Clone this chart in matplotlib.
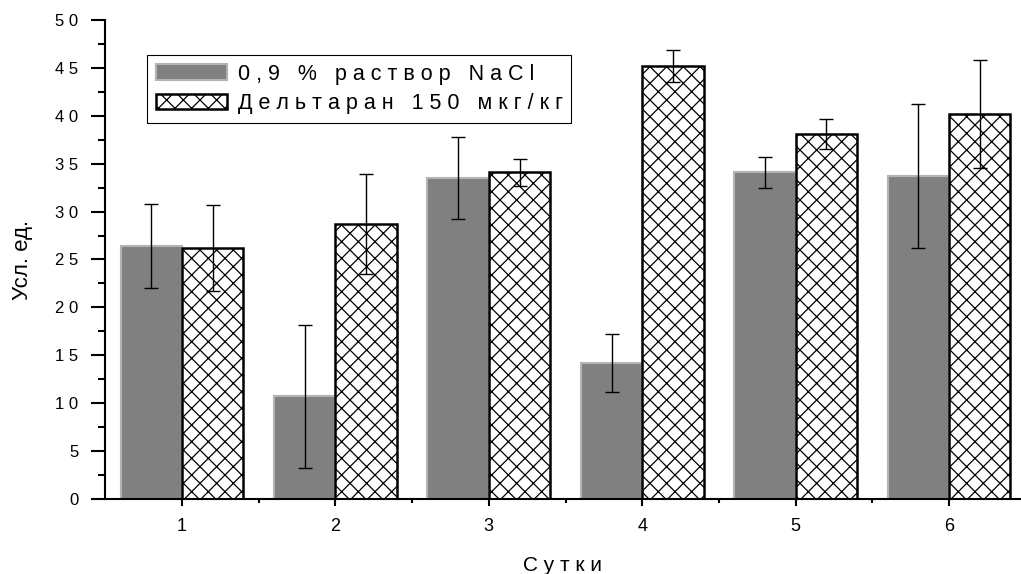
import matplotlib
matplotlib.use("Agg")
import matplotlib.pyplot as plt
import numpy as np

plt.rcParams['font.family'] = ['Liberation Sans', 'DejaVu Sans']
plt.rcParams['hatch.linewidth'] = 0.9

days = [1, 2, 3, 4, 5, 6]
nacl = [26.4, 10.7, 33.5, 14.2, 34.1, 33.7]
nacl_err = [4.4, 7.5, 4.3, 3.0, 1.6, 7.5]
deltaran = [26.2, 28.7, 34.1, 45.2, 38.1, 40.2]
deltaran_err = [4.5, 5.2, 1.4, 1.7, 1.55, 5.6]
label_nacl = '0,9 % раствор NaCl'
label_delta = 'Дельтаран 150 мкг/кг'


def spaced(s):
    # разрядка как в оригинале
    return ' '.join(s)


fig = plt.figure(figsize=(10.21, 5.74), dpi=100)
ax = fig.add_axes([0.1028, 0.1307, 0.8972, 0.8345])

x = np.array(days)
w = 0.4
ax.bar(x - w / 2, nacl, w, color='#808080', edgecolor='#b3b3b3', linewidth=1.5,
       label=spaced(label_nacl), zorder=2)
ax.bar(x + w / 2, deltaran, w, color='white', edgecolor='black', linewidth=1.8,
       hatch='xx', label=spaced(label_delta), zorder=2)
ax.errorbar(x - w / 2, nacl, yerr=nacl_err, fmt='none', ecolor='black',
            elinewidth=1, capsize=5.3, capthick=1, zorder=3)
ax.errorbar(x + w / 2, deltaran, yerr=deltaran_err, fmt='none', ecolor='black',
            elinewidth=1, capsize=5.3, capthick=1, zorder=3)

ax.set_xlim(0.497, 6.47)
ax.set_ylim(0, 50)
ax.spines['top'].set_visible(False)
ax.spines['right'].set_visible(False)
ax.spines['left'].set_linewidth(1.5)
ax.spines['bottom'].set_linewidth(1.5)

yt = np.arange(0, 51, 5)
ax.set_yticks(yt)
ax.set_yticklabels([spaced(str(v)) for v in yt], fontsize=12)
ax.set_yticks(np.arange(2.5, 50, 5), minor=True)
ax.set_xticks(x)
ax.set_xticklabels([str(d) for d in days], fontsize=13)
ax.set_xticks(x[:-1] + 0.5, minor=True)
ax.tick_params(axis='y', which='major', direction='out', length=10, width=1.5, pad=9)
ax.tick_params(axis='y', which='minor', direction='out', length=5, width=1.5)
ax.tick_params(axis='x', which='major', direction='out', length=5, width=1.5, pad=9)
ax.tick_params(axis='x', which='minor', direction='out', length=3, width=1.5)

ax.set_xlabel(spaced('Сутки'), fontsize=15, labelpad=15)
ax.set_ylabel('Усл. ед.', fontsize=16, labelpad=16)

leg = ax.legend(loc='upper left', bbox_to_anchor=(0.046, 0.927), borderaxespad=0,
                fontsize=15.5, fancybox=False, framealpha=1, edgecolor='black',
                handlelength=3.3, handleheight=0.72, handletextpad=0.5,
                borderpad=0.4, labelspacing=0.4)
leg.get_frame().set_linewidth(0.8)

plt.savefig('out.png', dpi=100)
